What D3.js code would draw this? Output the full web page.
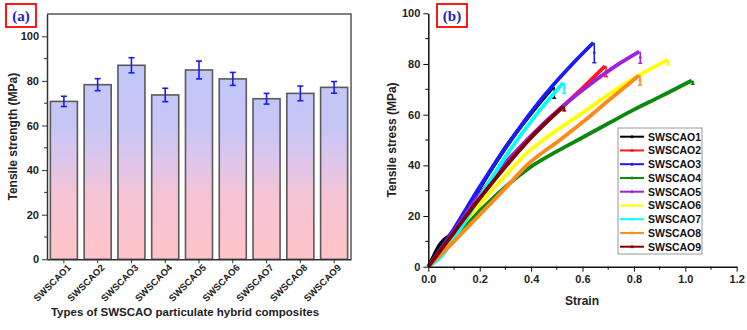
<!DOCTYPE html>
<html>
<head>
<meta charset="utf-8">
<script src="https://cdn.jsdelivr.net/npm/d3@7"></script>
<style>
  body { margin: 0; background: #fff; }
  svg text { font-family: "Liberation Sans", Arial, sans-serif; }
</style>
</head>
<body>
<svg id="chart" width="747" height="330"></svg>
<script>
// ---- data: panel (a) ----
const categories = ["SWSCAO1", "SWSCAO2", "SWSCAO3", "SWSCAO4", "SWSCAO5", "SWSCAO6", "SWSCAO7", "SWSCAO8", "SWSCAO9"];
const strength = [70.8, 78.3, 87.0, 73.7, 84.9, 80.9, 72.0, 74.4, 77.1];
const strengthErr = [2.3, 2.7, 3.4, 3.0, 4.0, 2.9, 2.4, 3.3, 2.6];
const strengthTicks = [0, 20, 40, 60, 80, 100];

// ---- data: panel (b), [strain, stress] ----
const curve1 = [[0, 0], [0.02, 4], [0.04, 8], [0.06, 10.5], [0.08, 12], [0.1, 14], [0.2, 31], [0.3, 47], [0.4, 60.5], [0.486, 71]];
const curve2 = [[0, 0], [0.1, 13.5], [0.2, 27], [0.3, 39.5], [0.4, 51], [0.525, 63.3], [0.6, 70.5], [0.688, 79.2]];
const curve3 = [[0, 0], [0.1, 15], [0.2, 31.5], [0.298, 46.5], [0.4, 61], [0.486, 71.7], [0.57, 81], [0.642, 88.4]];
const curve4 = [[0, 0], [0.1, 11.5], [0.2, 22], [0.3, 31.5], [0.4, 39.5], [0.5, 45.5], [0.6, 51], [0.7, 56.5], [0.8, 62], [0.9, 67], [1.025, 73.5]];
const curve5 = [[0, 0], [0.1, 14], [0.2, 28.5], [0.3, 41], [0.383, 50], [0.525, 63.5], [0.63, 72], [0.746, 80.3], [0.821, 84.9]];
const curve6 = [[0, 0], [0.1, 12.5], [0.2, 24.5], [0.3, 36], [0.396, 46], [0.447, 50], [0.6, 60.7], [0.746, 71], [0.93, 81.6]];
const curve7 = [[0, 0], [0.05, 4], [0.1, 11], [0.2, 27.5], [0.318, 46], [0.42, 60], [0.525, 72.6]];
const curve8 = [[0, 0], [0.1, 10], [0.2, 20.5], [0.3, 31], [0.383, 40], [0.512, 50], [0.6, 57], [0.7, 65.5], [0.82, 75.5]];
const curve9 = [[0, 0], [0.1, 13.5], [0.2, 27], [0.3, 39.5], [0.4, 51], [0.525, 63.2]];
const curves = [curve1, curve2, curve3, curve4, curve5, curve6, curve7, curve8, curve9];
const breakDrop = [66.5, 75, 80.5, 72, 80.3, 79.6, 68.4, 71.7, 61.5];
const seriesColors = ["#000000", "#ff1a1a", "#1a1aff", "#0a8a0a", "#a020e0", "#ffff00", "#00ffff", "#ff8a1a", "#800000"];
const strainTicks = [0, 0.2, 0.4, 0.6, 0.8, 1.0, 1.2];
const stressTicks = [0, 20, 40, 60, 80, 100];

const svg = d3.select("#chart");
const FAM = "'Liberation Sans', Arial, sans-serif";
const boldFont = `bold 11px ${FAM}`;

// ================= panel (a) =================
const ax = { left: 47, right: 351, top: 14, bottom: 259.3 };

const xBand = d3.scaleBand()
    .domain(categories)
    .range([ax.left, ax.right])
    .paddingInner(0.2)
    .paddingOuter(0.1);

const yA = d3.scaleLinear().domain([0, 110]).range([ax.bottom, ax.top]);

// gradient for bars, tied to the plot height
const defs = svg.append("defs");
const grad = defs.append("linearGradient")
    .attr("id", "barGrad")
    .attr("gradientUnits", "userSpaceOnUse")
    .attr("x1", 0).attr("x2", 0)
    .attr("y1", yA(100)).attr("y2", yA(0));
grad.append("stop").attr("offset", "0%").attr("stop-color", "#c0c8fc");
grad.append("stop").attr("offset", "40%").attr("stop-color", "#c6c6f6");
grad.append("stop").attr("offset", "55%").attr("stop-color", "#dcc6ec");
grad.append("stop").attr("offset", "72%").attr("stop-color", "#f6c4d4");
grad.append("stop").attr("offset", "100%").attr("stop-color", "#ffc4c8");

const gA = svg.append("g");

gA.selectAll("rect.bar")
    .data(categories)
    .join("rect")
    .attr("class", "bar")
    .attr("x", d => xBand(d))
    .attr("width", xBand.bandwidth())
    .attr("y", (d, i) => yA(strength[i]))
    .attr("height", (d, i) => yA(0) - yA(strength[i]))
    .attr("fill", "url(#barGrad)")
    .attr("stroke", "#5a5a5a")
    .attr("stroke-width", 1.6);

// error bars
const errG = gA.append("g").attr("stroke", "#1a1aff").attr("stroke-width", 1.6);
categories.forEach((c, i) => {
    const cx = xBand(c) + xBand.bandwidth() / 2;
    const lo = yA(strength[i] - strengthErr[i]);
    const hi = yA(strength[i] + strengthErr[i]);
    errG.append("line").attr("x1", cx).attr("x2", cx).attr("y1", lo).attr("y2", hi);
    errG.append("line").attr("x1", cx - 3).attr("x2", cx + 3).attr("y1", lo).attr("y2", lo);
    errG.append("line").attr("x1", cx - 3).attr("x2", cx + 3).attr("y1", hi).attr("y2", hi);
});

// frame (top + right)
gA.append("path")
    .attr("d", `M${ax.left},${ax.top}H${ax.right}V${ax.bottom}`)
    .attr("fill", "none").attr("stroke", "#555").attr("stroke-width", 1.5);

// y axis
const yAxisA = gA.append("g")
    .attr("transform", `translate(${ax.left},0)`)
    .call(d3.axisLeft(yA).tickValues(strengthTicks).tickSize(5).tickPadding(3).tickSizeOuter(0));
yAxisA.append("g").selectAll("line")
    .data([10, 30, 50, 70, 90])
    .join("line")
    .attr("x1", -3).attr("x2", 0)
    .attr("y1", d => yA(d)).attr("y2", d => yA(d))
    .attr("stroke", "#333");

// x axis
const xAxisA = gA.append("g")
    .attr("transform", `translate(0,${ax.bottom})`)
    .call(d3.axisBottom(xBand).tickSize(4).tickSizeOuter(0));
xAxisA.selectAll("text")
    .attr("text-anchor", "end")
    .attr("transform", "rotate(-45)")
    .attr("dx", "-0.1em")
    .attr("dy", "0.5em")
    .style("font", `bold 9.5px ${FAM}`)
    .attr("fill", "#222");

[yAxisA, xAxisA].forEach(a => {
    a.select(".domain").attr("stroke", "#333").attr("stroke-width", 1.5);
    a.selectAll(".tick line").attr("stroke", "#333");
});
yAxisA.selectAll("text").style("font", boldFont).attr("fill", "#222");

gA.append("text")
    .attr("transform", `translate(17,${(ax.top + ax.bottom) / 2}) rotate(-90)`)
    .attr("text-anchor", "middle")
    .style("font", `bold 12px ${FAM}`)
    .attr("fill", "#222")
    .text("Tensile strength (MPa)");

gA.append("text")
    .attr("x", 185).attr("y", 316)
    .attr("text-anchor", "middle")
    .style("font", `bold 11.5px ${FAM}`)
    .attr("fill", "#222")
    .text("Types of SWSCAO particulate hybrid composites");

// panel tag
const tagA = gA.append("g");
tagA.append("rect").attr("x", 6).attr("y", 4).attr("width", 30).attr("height", 23)
    .attr("fill", "none").attr("stroke", "#ff0000").attr("stroke-width", 1.8);
tagA.append("text").attr("x", 21).attr("y", 20.5).attr("text-anchor", "middle")
    .style("font", "bold 15px 'Liberation Serif', 'Times New Roman', serif")
    .attr("fill", "#2020d0").text("(a)");

// ================= panel (b) =================
const bx = { left: 428.3, right: 736.7, top: 13.3, bottom: 266.7 };
const xB = d3.scaleLinear().domain([0, 1.2]).range([bx.left, bx.right]);
const yB = d3.scaleLinear().domain([0, 100]).range([bx.bottom, bx.top]);

const gB = svg.append("g");

const line = d3.line()
    .x(d => xB(d[0]))
    .y(d => yB(d[1]))
    .curve(d3.curveMonotoneX);

curves.forEach((c, i) => {
    const last = c[c.length - 1];
    gB.append("path")
        .attr("d", line(c))
        .attr("fill", "none")
        .attr("stroke", seriesColors[i])
        .attr("stroke-width", 3.8)
        .attr("stroke-linejoin", "round");
    // break drop
    const dx = xB(last[0]) + 1;
    gB.append("line")
        .attr("x1", dx).attr("x2", dx)
        .attr("y1", yB(last[1])).attr("y2", yB(breakDrop[i]))
        .attr("stroke", seriesColors[i]).attr("stroke-width", 1.5);
    gB.append("line")
        .attr("x1", dx - 2).attr("x2", dx + 2)
        .attr("y1", yB(breakDrop[i])).attr("y2", yB(breakDrop[i]))
        .attr("stroke", seriesColors[i]).attr("stroke-width", 1.5);
    gB.append("circle")
        .attr("cx", dx).attr("cy", yB((last[1] + breakDrop[i]) / 2)).attr("r", 1.3)
        .attr("fill", seriesColors[i]);
});

// axes
const xAxisB = gB.append("g")
    .attr("transform", `translate(0,${bx.bottom})`)
    .call(d3.axisBottom(xB).tickValues(strainTicks).tickFormat(d3.format(".1f")).tickSize(5).tickPadding(4).tickSizeOuter(0));
xAxisB.append("g").selectAll("line")
    .data([0.1, 0.3, 0.5, 0.7, 0.9, 1.1])
    .join("line")
    .attr("x1", d => xB(d)).attr("x2", d => xB(d))
    .attr("y1", 0).attr("y2", 3)
    .attr("stroke", "#000");

const yAxisB = gB.append("g")
    .attr("transform", `translate(${bx.left},0)`)
    .call(d3.axisLeft(yB).tickValues(stressTicks).tickSize(5).tickPadding(3).tickSizeOuter(0));
yAxisB.append("g").selectAll("line")
    .data([10, 30, 50, 70, 90])
    .join("line")
    .attr("x1", -3).attr("x2", 0)
    .attr("y1", d => yB(d)).attr("y2", d => yB(d))
    .attr("stroke", "#000");

[xAxisB, yAxisB].forEach(a => {
    a.select(".domain").attr("stroke", "#111").attr("stroke-width", 1.5);
    a.selectAll(".tick line").attr("stroke", "#111");
    a.selectAll("text").style("font", boldFont).attr("fill", "#222");
});

gB.append("text")
    .attr("transform", `translate(396,${(bx.top + bx.bottom) / 2}) rotate(-90)`)
    .attr("text-anchor", "middle")
    .style("font", `bold 12px ${FAM}`)
    .attr("fill", "#222")
    .text("Tensile stress (MPa)");

gB.append("text")
    .attr("x", 582).attr("y", 305)
    .attr("text-anchor", "middle")
    .style("font", `bold 12px ${FAM}`)
    .attr("fill", "#222")
    .text("Strain");

// legend
const lg = gB.append("g");
lg.append("rect").attr("x", 618).attr("y", 128).attr("width", 84).attr("height", 126)
    .attr("fill", "#fff").attr("stroke", "#999").attr("stroke-width", 1);
const items = lg.selectAll("g.item")
    .data(categories)
    .join("g")
    .attr("class", "item")
    .attr("transform", (d, i) => `translate(0,${136.7 + i * 13.75})`);
items.append("line")
    .attr("x1", 620).attr("x2", 644)
    .attr("stroke", (d, i) => seriesColors[i]).attr("stroke-width", 2);
items.append("circle")
    .attr("cx", 632).attr("r", 1.5)
    .attr("fill", (d, i) => seriesColors[i]);
items.append("text")
    .attr("x", 648).attr("y", 4)
    .style("font", `bold 10.5px ${FAM}`)
    .attr("fill", "#111")
    .text(d => d);

// panel tag
const tagB = gB.append("g");
tagB.append("rect").attr("x", 437).attr("y", 4).attr("width", 30).attr("height", 23)
    .attr("fill", "none").attr("stroke", "#ff0000").attr("stroke-width", 1.8);
tagB.append("text").attr("x", 452).attr("y", 20.5).attr("text-anchor", "middle")
    .style("font", "bold 15px 'Liberation Serif', 'Times New Roman', serif")
    .attr("fill", "#2020d0").text("(b)");
</script>
</body>
</html>
